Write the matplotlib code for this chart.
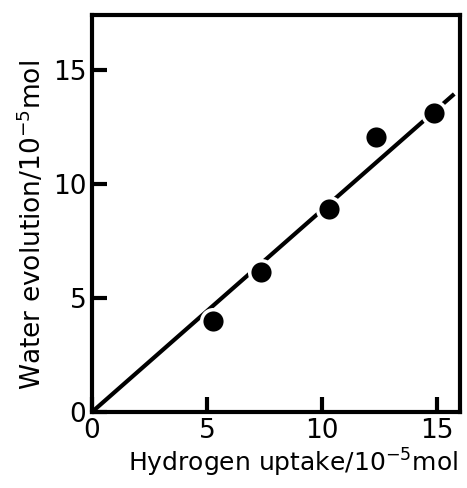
import matplotlib
matplotlib.use("Agg")
import matplotlib.pyplot as plt
import numpy as np

hydrogen_uptake = [5.25, 7.35, 10.3, 12.35, 14.85]
water_evolution = [4.0, 6.15, 8.9, 12.05, 13.1]
fit_x = [0.0, 15.75]
fit_slope = 0.885
xticks = [0, 5, 10, 15]
yticks = [0, 5, 10, 15]

plt.rcParams['font.family'] = ['DejaVu Sans']
fig = plt.figure(figsize=(4.67, 4.88), dpi=100)
ax = fig.add_axes([92/467, 76/488, 368/467, 397/488])

fx = np.array(fit_x)
ax.plot(fx, fit_slope * fx, color='black', lw=3, solid_capstyle='butt', zorder=2)
ax.plot(hydrogen_uptake, water_evolution, 'o', color='black', ms=17,
        markeredgecolor='white', markeredgewidth=2.5, zorder=3)

ax.set_xlim(0, 16)
ax.set_ylim(0, 17.4)
ax.set_xticks(xticks)
ax.set_yticks(yticks)
for s in ax.spines.values():
    s.set_linewidth(3)
ax.tick_params(direction='in', length=11, width=3, labelsize=19, pad=4,
               top=False, right=False)
ax.set_xlabel('Hydrogen uptake/10$^{-5}$mol', fontsize=18, labelpad=2, x=0.545)
ax.set_ylabel('Water evolution/10$^{-5}$mol', fontsize=19, labelpad=4, y=0.47)

fig.savefig('out.png', dpi=100)
